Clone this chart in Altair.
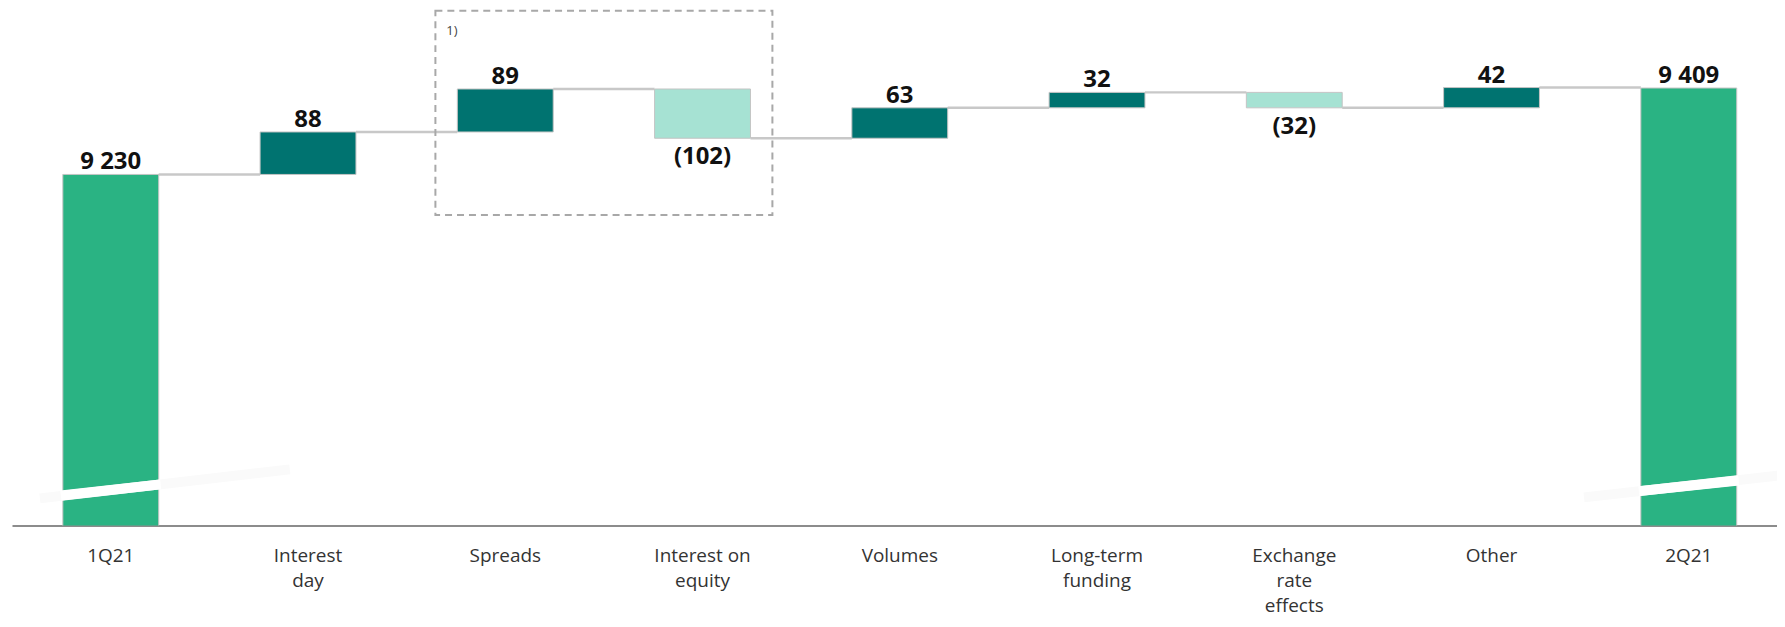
import json
import altair as alt
import pandas as pd

# ---------------- data ----------------
categories = ["1Q21", "Interest day", "Spreads", "Interest on equity", "Volumes",
              "Long-term funding", "Exchange rate effects", "Other", "2Q21"]
values = [9230, 88, 89, -102, 63, 32, -32, 42, 9409]
kinds = ["total", "delta", "delta", "delta", "delta", "delta", "delta", "delta", "total"]
value_labels = ["9 230", "88", "89", "(102)", "63", "32", "(32)", "42", "9 409"]
axis_lines = [["1Q21"], ["Interest", "day"], ["Spreads"], ["Interest on", "equity"],
              ["Volumes"], ["Long-term", "funding"], ["Exchange", "rate", "effects"],
              ["Other"], ["2Q21"]]

# broken value axis: visible window of the y scale
Y_MIN, Y_MAX = 8503, 9573

# axis-break stripes: faint full stripe (y_a -> y_b) and white cut across the bar (y_c -> y_d)
break_left = {"cat": ["1Q21"], "cat2": ["Interest day"],
              "y_a": [8559], "y_b": [8619], "y_c": [8565], "y_d": [8588]}
break_right = {"cat": ["2Q21"], "cat2": ["2Q21"],
               "y_a": [8561], "y_b": [8607], "y_c": [8574], "y_d": [8596]}

# dashed annotation box around Spreads / Interest on equity
box = {"c1": ["Spreads"], "c2": ["Interest on equity"], "y1": [9146], "y2": [9569]}
note = {"cat": ["Spreads"], "y": [9528], "text": ["1)"]}

# ---------------- build tables ----------------
rows = []
run = 0
for i, (c, v, k, lab) in enumerate(zip(categories, values, kinds, value_labels)):
    if k == "total":
        start, end = 0, v
        run = v
        kind = "total"
    else:
        start, end = run, run + v
        run = end
        kind = "up" if v >= 0 else "down"
    rows.append(dict(cat=c, start=start, end=end, kind=kind, label=lab,
                     top=max(start, end), bottom=min(start, end),
                     nxt=categories[i + 1] if i + 1 < len(categories) else None))
df = pd.DataFrame(rows)
conn = df[df["nxt"].notna()].copy()

expr = ""
for c, lines in zip(categories, axis_lines):
    expr += f"datum.label == '{c}' ? {json.dumps(lines)} : "
expr += "datum.label"

FONT = "Open Sans"

x_scale = alt.Scale(domain=categories, paddingInner=0.514, paddingOuter=0.231, align=0.558)
x_axis = alt.Axis(title=None, labelExpr=expr, labelFont=FONT, labelFontSize=19,
                  labelColor="#333333", labelPadding=21, labelLineHeight=25,
                  labelAngle=0, ticks=False, domainColor="#8c8c8c", domainWidth=2,
                  grid=False, labelBaseline="top", labelAlign="center")
y_scale = alt.Scale(domain=[Y_MIN, Y_MAX], nice=False, zero=False)


def X(field, bp=None):
    kw = dict(scale=x_scale, axis=x_axis, sort=categories, title=None)
    if bp is not None:
        kw["bandPosition"] = bp
    return alt.X(f"{field}:N", **kw)


def Y(field):
    return alt.Y(f"{field}:Q", scale=y_scale, axis=None)


bars = alt.Chart(df).mark_bar(clip=True, stroke="#c4c4c4", strokeWidth=1).encode(
    x=X("cat"),
    y=Y("end"),
    y2="start:Q",
    color=alt.Color("kind:N", legend=None,
                    scale=alt.Scale(domain=["total", "up", "down"],
                                    range=["#2AB383", "#007370", "#A6E2D3"])),
)

connectors = alt.Chart(conn).mark_rule(color="#c8c8c8", strokeWidth=2.5).encode(
    x=X("cat", 1),
    x2=alt.X2("nxt", bandPosition=0),
    y=Y("end"),
)


def break_layers(d, hi, off_lo, off_hi):
    bd = pd.DataFrame(d)
    faint = alt.Chart(bd).mark_rule(color="#fafafa", strokeWidth=10, strokeCap="butt",
                                    xOffset=off_lo, x2Offset=off_hi).encode(
        x=X("cat", 0), x2=alt.X2("cat2", bandPosition=hi),
        y=Y("y_a"), y2="y_b:Q")
    white = alt.Chart(bd).mark_rule(color="#ffffff", strokeWidth=10, strokeCap="butt",
                                    xOffset=-2, x2Offset=2).encode(
        x=X("cat", 0), x2=alt.X2("cat", bandPosition=1),
        y=Y("y_c"), y2="y_d:Q")
    return [faint, white]


pos_text = alt.Chart(df[df["kind"] != "down"]).mark_text(
    font=FONT, fontSize=24, fontWeight="bold", color="#111111",
    baseline="alphabetic", dy=-5).encode(
    x=X("cat", 0.5), y=Y("top"), text="label:N")

neg_text = alt.Chart(df[df["kind"] == "down"]).mark_text(
    font=FONT, fontSize=24, fontWeight="bold", color="#111111",
    baseline="top", dy=7).encode(
    x=X("cat", 0.5), y=Y("bottom"), text="label:N")

box_layer = alt.Chart(pd.DataFrame(box)).mark_rect(
    fillOpacity=0, fill="#ffffff", stroke="#a8a8a8", strokeWidth=2, strokeDash=[7, 5],
    xOffset=-22, x2Offset=22).encode(
    x=X("c1", 0), x2=alt.X2("c2", bandPosition=1),
    y=Y("y1"), y2="y2:Q")

note_layer = alt.Chart(pd.DataFrame(note)).mark_text(
    font=FONT, fontSize=13, color="#444444", align="left", baseline="middle", dx=-11).encode(
    x=X("cat", 0), y=Y("y"), text="text:N")

chart = alt.layer(
    connectors, bars,
    *break_layers(break_left, 0.31, -23, 0),
    *break_layers(break_right, 1, -57, 45),
    pos_text, neg_text, box_layer, note_layer,
).properties(
    width=1770, height=518,
    autosize=alt.AutoSizeParams(type="none"),
    padding={"left": 4, "top": 0, "right": 0, "bottom": 93},
).configure(background="#ffffff").configure_view(stroke=None)

chart.save("out.html", embed_options={"renderer": "svg", "actions": False})
